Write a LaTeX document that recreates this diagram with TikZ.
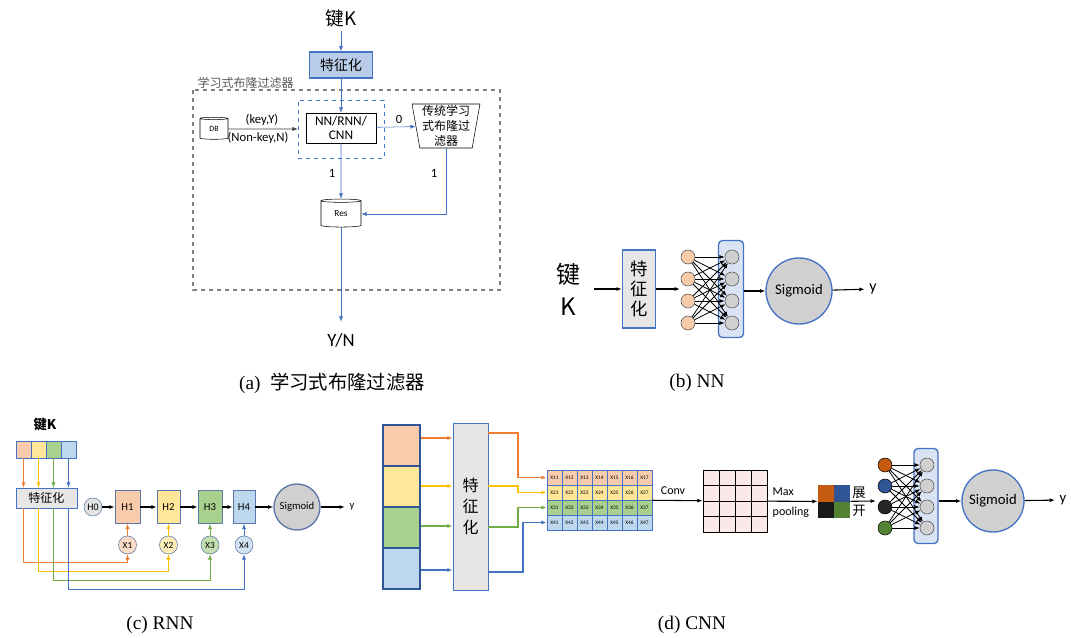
\documentclass[tikz,border=0pt]{standalone}
\usepackage{fontspec}
\setmainfont{Liberation Serif}
\setsansfont{Carlito}
\newfontfamily\cjk{Noto Sans CJK SC}
\usetikzlibrary{shapes.geometric,arrows.meta}

\definecolor{lineblue}{HTML}{4472C4}
\definecolor{darkblue}{HTML}{2F5597}
\definecolor{featblue}{HTML}{B8CCE9}
\definecolor{featgray}{HTML}{E7E6E6}
\definecolor{outblue}{HTML}{DAE3F3}
\definecolor{hidgray}{HTML}{D0D0D0}
\definecolor{inorange}{HTML}{F8CBAD}
\definecolor{corange}{HTML}{ED7D31}
\definecolor{fyellow}{HTML}{FFE699}
\definecolor{cyellow}{HTML}{FFC000}
\definecolor{fgreen}{HTML}{A9D18E}
\definecolor{cgreen}{HTML}{70AD47}
\definecolor{fblue}{HTML}{BDD7EE}
\definecolor{gridpink}{HTML}{FBE8E8}
\definecolor{pbrown}{HTML}{C55A11}
\definecolor{pgreen}{HTML}{548235}
\definecolor{labgray}{HTML}{595959}

\newcommand{\fsz}[1]{\fontsize{#1}{#1}\selectfont}

\begin{document}
\begin{tikzpicture}[x=0.75pt,y=-0.75pt,>={Latex[length=4pt,width=3pt]},
  sz/.style 2 args={minimum width=#1*0.75pt,minimum height=#2*0.75pt},
  dia/.style={circle,minimum size=#1*0.75pt,inner sep=0pt},
  box/.style={draw,inner sep=0pt,align=center},
  drum/.style={cylinder,shape border rotate=90,aspect=0.25,draw,inner sep=0pt,fill=white},
  neuron/.style={dia=14,draw=black!70},
  sig/.style={circle,draw=lineblue,fill=hidgray,line width=1pt,inner sep=0pt}]
  \useasboundingbox (0,0) rectangle (1071,638);
  \fill[white] (0,0) rectangle (1071,638);

  % (a) learned bloom filter
  \node[font=\cjk\fsz{14}] (akey) at (341,18) {键K};
  \node[box,draw=lineblue,fill=featblue,line width=1pt,sz={63}{26},font=\cjk\fsz{10.5}] (afeat) at (341,65) {特征化};
  \node[anchor=west,font=\cjk\fsz{9},text=labgray] (alabel) at (193,83) {学习式布隆过滤器};
  \draw[gray,dashed,line width=1pt] (193,90) rectangle (500,290);
  \node[box,draw=lineblue,dashed,sz={86}{58}] (awrap) at (341,129) {};
  \node[box,fill=white,sz={70}{30},font=\sffamily\fsz{10}] (ann) at (341,128) {NN/RNN/\\CNN};
  \node[drum,sz={28}{22},font=\sffamily\fsz{6}] (adb) at (214,129) {DB};
  \node[font=\sffamily\fsz{9.5}] (akeyy) at (262,120) {(key,Y)};
  \node[font=\sffamily\fsz{9.5}] (anonkey) at (258,138) {(Non-key,N)};
  \node[trapezium,trapezium stretches=true,shape border rotate=180,trapezium angle=80,draw,
        sz={68}{44},inner sep=0pt,align=center,font=\cjk\fsz{9},
        execute at begin node=\setlength{\baselineskip}{11pt}] (atrad) at (446,126) {传统学习\\式布隆过\\滤器};
  \node[drum,sz={40}{28},font=\sffamily\fsz{7}] (ares) at (341,214) {Res};
  \node[font=\sffamily\fsz{14}] (ayn) at (341,340) {Y/N};
  \node[font=\sffamily\fsz{9.5}] (azero) at (399,119) {0};
  \node[font=\sffamily\fsz{9.5}] (aone) at (332,173) {1};
  \node[font=\sffamily\fsz{9.5}] (atwo) at (434,173) {1};
  \draw[->,lineblue] (akey) -- (afeat);
  \draw[->,lineblue] (afeat) -- (ann);
  \draw[->,darkgray] (adb) -- (awrap.west);
  \draw[->,lineblue] (ann) -- (atrad);
  \draw[->,lineblue] (ann) -- (ares);
  \draw[->,lineblue] (atrad.south) |- (ares.east);
  \draw[->,lineblue,shorten >=5pt] (ares) -- (ayn);
  \node[font=\fsz{14.5}] (capa) at (332,383) {(a)\ \ {\cjk 学习式布隆过滤器}};

  % (b) NN
  \node[font=\cjk\fsz{18}] (bkey) at (568,274) {键};
  \node[font=\cjk\fsz{18}] (bk) at (568,307) {K};
  \coordinate (bstart) at (594,289);
  \node[box,draw=lineblue,fill=featgray,line width=1pt,sz={33}{78},font=\cjk\fsz{13},
        execute at begin node=\setlength{\baselineskip}{15pt}] (bfeat) at (639,289) {特\\征\\化};
  \coordinate (bnet) at (680,289);
  \node[box,rounded corners=3pt,draw=lineblue,fill=outblue,line width=1pt,sz={25}{97}] (bout) at (731,289) {};
  \foreach \i/\y in {1/257,2/279,3/301,4/323} {
    \node[neuron,fill=inorange] (bi\i) at (688,\y) {};
    \node[neuron,fill=hidgray] (bo\i) at (732,\y) {};
  }
  \foreach \i in {1,...,4}
    \foreach \j in {1,...,4}
      \draw[->,semithick] (bi\i) -- (bo\j);
  \node[sig,dia=66,font=\sffamily\fsz{11}] (bsig) at (799,291) {Sigmoid};
  \node[font=\sffamily\fsz{12}] (by) at (873,289) {y};
  \draw[->,thick] (bstart) -- (bfeat);
  \draw[->,thick] (bfeat) -- (bnet);
  \draw[->,thick] (bout.east |- bsig) -- (bsig);
  \draw[->,thick] (bsig) -- (by);
  \node[font=\fsz{14.5}] (capb) at (697,383) {(b) NN};

  % (c) RNN
  \node[font=\cjk\bfseries\fsz{10}] (ckey) at (45,424) {键K};
  \foreach \i/\x/\f in {1/23.5/inorange,2/38.5/fyellow,3/53.5/fgreen,4/68.5/fblue}
    \node[box,draw=lineblue,fill=\f,sz={15}{17}] (c\i) at (\x,449.5) {};
  \node[box,draw=lineblue,fill=featgray,sz={61}{20},font=\cjk\fsz{9}] (cfeat) at (46.5,498) {特征化};
  \foreach \i/\col in {1/corange,2/cyellow,3/cgreen,4/lineblue}
    \draw[->,\col] (c\i) -- (c\i |- cfeat.north);
  \node[dia=18,draw=lineblue!60!gray,fill=hidgray!60,font=\sffamily\fsz{7.5}] (ch0) at (93,507) {H0};
  \foreach \i/\x/\w/\f in {1/127.5/25/inorange,2/168.5/23/fyellow,3/210/24/fgreen,4/244/22/fblue} {
    \node[box,draw=lineblue!60!gray,fill=\f,sz={\w}{33},font=\sffamily\fsz{8}] (ch\i) at (\x,507) {H\i};
    \node[dia=18,draw=lineblue!60!gray,fill=\f!70,font=\sffamily\fsz{7}] (cx\i) at (\x,545) {X\i};
  }
  \node[sig,draw=lineblue!60!gray,dia=46,font=\sffamily\fsz{8}] (csig) at (297,507) {Sigmoid};
  \node[font=\sffamily\fsz{8}] (cy) at (352,507) {y};
  \draw[->,thick] (ch0) -- (ch1);
  \draw[->,thick] (ch1) -- (ch2);
  \draw[->,thick] (ch2) -- (ch3);
  \draw[->,thick] (ch3) -- (ch4);
  \draw[->,thick] (ch4) -- (csig);
  \draw[->,thick] (csig) -- (cy);
  \foreach \i/\ly/\col in {1/562/corange,2/571/cyellow,3/580/cgreen,4/589/lineblue} {
    \draw[->,\col] (cx\i) -- (ch\i);
    \draw[->,\col] (cfeat.south -| c\i) |- (cx\i |- 0,\ly) -- (cx\i);
  }
  \node[font=\fsz{14.5}] (capc) at (160,625) {(c) RNN};

  % (d) CNN
  \foreach \i/\y/\f in {1/445.5/inorange,2/486.5/fyellow,3/527.5/fgreen,4/568.5/fblue}
    \node[box,draw=darkblue,line width=1.2pt,fill=\f,sz={37}{41}] (di\i) at (401.5,\y) {};
  \node[box,draw=lineblue,fill=featgray,sz={35}{167},font=\cjk\fsz{12},
        execute at begin node=\setlength{\baselineskip}{16pt}] (dfeat) at (470.5,506.5) {特\\征\\化};
  \foreach \i/\ya/\col in {1/438/corange,2/486/cyellow,3/526/cgreen,4/570/lineblue}
    \draw[->,\col,thick] (di\i.east |- 0,\ya) -- (dfeat.west |- 0,\ya);
  \foreach \r/\f in {1/inorange,2/fyellow,3/fgreen,4/fblue}
    \foreach \k in {1,...,7}
      \node[box,draw=lineblue,fill=\f,sz={15}{15},font=\sffamily\fsz{4}] (m-\r-\k) at ({539.5+15*\k},{462.5+15*\r}) {X\r\k};
  \foreach \r/\yo/\xb/\col in {1/433/518/corange,2/486/518/cyellow,3/527/518/cgreen,4/572/523/lineblue}
    \draw[->,\col,thick] (dfeat.east |- 0,\yo) -| (\xb,0 |- m-\r-1.west) -- (m-\r-1.west);
  \node[font=\sffamily\fsz{9}] (dconv) at (673,491) {Conv};
  \node[box,fill=gridpink,sz={64}{62}] (dgrid) at (735,501) {};
  \foreach \k in {1,2,3} {
    \draw ({703+16*\k},470) -- ({703+16*\k},532);
    \draw (703,{470+15.5*\k}) -- (767,{470+15.5*\k});
  }
  \draw[->,thick] (m-2-7.south east) -- (dgrid);
  \node[anchor=west,font=\sffamily\fsz{9}] (dmax) at (768,492) {Max};
  \node[anchor=west,font=\sffamily\fsz{9}] (dpl) at (768,512) {pooling};
  \node[box,draw=none,sz={32}{33}] (dpool) at (834,501.5) {};
  \fill[pbrown] (dpool.north west) rectangle (dpool.center);
  \fill[darkblue] (dpool.north) rectangle (dpool.east);
  \fill[black!90] (dpool.west) rectangle (dpool.south);
  \fill[pgreen] (dpool.center) rectangle (dpool.south east);
  \draw[->,thick] (dgrid) -- (dpool);
  \node[font=\cjk\fsz{10}] (dzhan) at (859,493) {展};
  \node[font=\cjk\fsz{10}] (dkai) at (859,511) {开};
  \coordinate (dnet) at (876,501);
  \draw[->,thick] (dpool) -- (dnet);
  \node[box,rounded corners=3pt,draw=lineblue,fill=outblue,line width=1pt,sz={24}{95}] (dbox) at (926,496) {};
  \foreach \i/\y/\f in {1/465/pbrown,2/486/darkblue,3/507/black!85,4/528/pgreen} {
    \node[neuron,draw=black,fill=\f] (dn\i) at (885,\y) {};
    \node[neuron,fill=hidgray] (do\i) at (927,\y) {};
  }
  \foreach \i in {1,...,4}
    \foreach \j in {1,...,4}
      \draw[->,semithick] (dn\i) -- (do\j);
  \node[sig,dia=62,font=\sffamily\fsz{11}] (dsig) at (993,501) {Sigmoid};
  \node[font=\sffamily\fsz{11}] (dy) at (1063,500) {y};
  \draw[->,thick] (dbox.east |- dsig) -- (dsig);
  \draw[->,thick] (dsig) -- (dy);
  \node[font=\fsz{14.5}] (capd) at (692,625) {(d) CNN};
\end{tikzpicture}
\end{document}
